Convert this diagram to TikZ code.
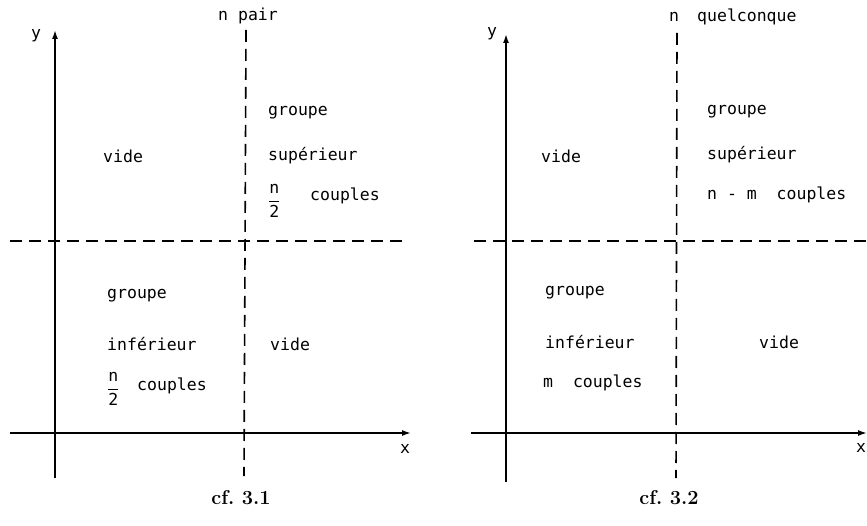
\documentclass[tikz,border=0pt]{standalone}
\usepackage{amsmath}
\usepackage{fontspec}
\setmonofont{DejaVu Sans Mono}
\usetikzlibrary{arrows.meta}

\begin{document}
\begin{tikzpicture}[x=1pt,y=-1pt,
  ax/.style={line width=1.6pt,-{Latex[length=9pt,width=6pt]}},
  dsh/.style={line width=1.6pt,dash pattern=on 12pt off 7pt},
  lab/.style={font=\fontsize{16.5}{18}\selectfont\ttfamily,inner sep=0pt,anchor=west},
  capt/.style={font=\fontsize{20}{22}\selectfont\bfseries,inner sep=0pt}]
  \useasboundingbox (0,0) rectangle (867,526);
  % cf. 3.1
  \coordinate (yb1) at (55,478);
  \coordinate (yt1) at (55,30);
  \coordinate (xl1) at (10,433);
  \coordinate (xr1) at (411,433);
  \coordinate (hl1) at (10,241);
  \coordinate (hr1) at (402,241);
  \coordinate (vt1) at (246,30);
  \coordinate (vb1) at (244,476);
  \draw[ax] (yb1) -- (yt1);
  \draw[ax] (xl1) -- (xr1);
  \draw[dsh] (hl1) -- (hr1);
  \draw[dsh] (vt1) -- (vb1);
  \node[lab] (ylab1) at (31,36) {y};
  \node[lab] (xlab1) at (400,449) {x};
  \node[lab] (npair) at (218,16) {n pair};
  \node[lab] (vide1) at (103,156) {vide};
  \node[lab] (grs1) at (268,113) {groupe};
  \node[lab] (sup1) at (268,156) {supérieur};
  \node[lab] (fs1) at (268,201) {$\dfrac{\texttt{n}}{\texttt{2}}$};
  \node[lab] (cs1) at (310,196) {couples};
  \node[lab] (gri1) at (107,296) {groupe};
  \node[lab] (inf1) at (107,344) {inférieur};
  \node[lab] (fi1) at (107,389) {$\dfrac{\texttt{n}}{\texttt{2}}$};
  \node[lab] (ci1) at (137,386) {couples};
  \node[lab] (vide2) at (270,344) {vide};
  \node[capt] (cap1) at (241,498) {cf.\ 3.1};
  % cf. 3.2
  \coordinate (yb2) at (506,482);
  \coordinate (yt2) at (506,34);
  \coordinate (xl2) at (471,433);
  \coordinate (xr2) at (867,433);
  \coordinate (hl2) at (474,241);
  \coordinate (hr2) at (867,241);
  \coordinate (vt2) at (677,33);
  \coordinate (vb2) at (676,478);
  \draw[ax] (yb2) -- (yt2);
  \draw[ax] (xl2) -- (xr2);
  \draw[dsh] (hl2) -- (hr2);
  \draw[dsh] (vt2) -- (vb2);
  \node[lab] (ylab2) at (487,34) {y};
  \node[lab] (xlab2) at (856,448) {x};
  \node[lab] (nq) at (669,17) {n};
  \node[lab] (quel) at (697,17) {quelconque};
  \node[lab] (vide3) at (541,156) {vide};
  \node[lab] (grs2) at (707,112) {groupe};
  \node[lab] (sup2) at (707,155) {supérieur};
  \node[lab] (cs2) at (707,195) {n - m\ \ couples};
  \node[lab] (gri2) at (545,293) {groupe};
  \node[lab] (inf2) at (545,342) {inférieur};
  \node[lab] (ci2) at (543,383) {m\ \ couples};
  \node[lab] (vide4) at (759,342) {vide};
  \node[capt] (cap2) at (669,498) {cf.\ 3.2};
\end{tikzpicture}
\end{document}
